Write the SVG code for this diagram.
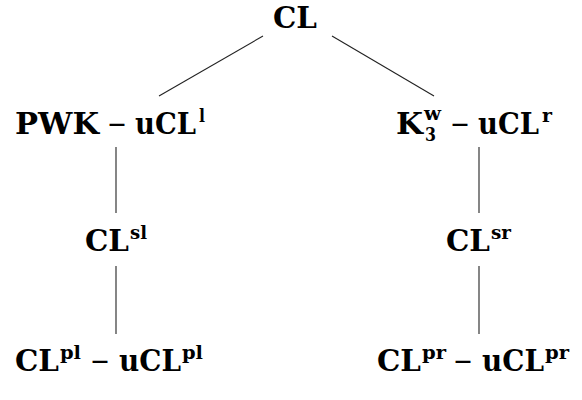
<svg xmlns="http://www.w3.org/2000/svg" width="582" height="400" viewBox="0 0 582 400">
<style>
.t{font-family:"DejaVu Serif","Liberation Serif",serif;font-weight:bold;font-size:29px;fill:#000}
.s{font-size:19px}
.m{font-weight:normal}
.e{stroke:#222;stroke-width:1.1;fill:none}
</style>
<rect width="582" height="400" fill="#fff"/>
<g id="connectors">
<line class="e" x1="263" y1="36" x2="159" y2="96"/>
<line class="e" x1="332" y1="36" x2="434" y2="96"/>
<line class="e" x1="116" y1="147" x2="116" y2="213"/>
<line class="e" x1="479" y1="147" x2="479" y2="213"/>
<line class="e" x1="116" y1="266" x2="116" y2="334"/>
<line class="e" x1="479" y1="266" x2="479" y2="334"/>
</g>
<g id="n-cl">
<text class="t" x="273" y="28" textLength="44" lengthAdjust="spacingAndGlyphs">CL</text>
</g>
<g id="n-pwk">
<text class="t" x="15" y="134" textLength="84" lengthAdjust="spacingAndGlyphs">PWK</text>
<text class="t m" x="107" y="134" textLength="20" lengthAdjust="spacingAndGlyphs">−</text>
<text class="t" x="135" y="134" textLength="61" lengthAdjust="spacingAndGlyphs">uCL</text>
<text class="t s" x="199" y="122" textLength="6" lengthAdjust="spacingAndGlyphs">l</text>
</g>
<g id="n-k3">
<text class="t" x="396" y="134" textLength="27" lengthAdjust="spacingAndGlyphs">K</text>
<text class="t s" x="424" y="120" textLength="17" lengthAdjust="spacingAndGlyphs">w</text>
<text class="t s" x="425" y="141" textLength="11" lengthAdjust="spacingAndGlyphs">3</text>
<text class="t m" x="450" y="134" textLength="20" lengthAdjust="spacingAndGlyphs">−</text>
<text class="t" x="478" y="134" textLength="61" lengthAdjust="spacingAndGlyphs">uCL</text>
<text class="t s" x="542" y="122" textLength="10" lengthAdjust="spacingAndGlyphs">r</text>
</g>
<g id="n-clsl">
<text class="t" x="85" y="251" textLength="44" lengthAdjust="spacingAndGlyphs">CL</text>
<text class="t s" x="130" y="239" textLength="17" lengthAdjust="spacingAndGlyphs">sl</text>
</g>
<g id="n-clsr">
<text class="t" x="446" y="251" textLength="44" lengthAdjust="spacingAndGlyphs">CL</text>
<text class="t s" x="491" y="239" textLength="20" lengthAdjust="spacingAndGlyphs">sr</text>
</g>
<g id="n-clpl">
<text class="t" x="15" y="371" textLength="44" lengthAdjust="spacingAndGlyphs">CL</text>
<text class="t s" x="60" y="359" textLength="21" lengthAdjust="spacingAndGlyphs">pl</text>
<text class="t m" x="90" y="371" textLength="20" lengthAdjust="spacingAndGlyphs">−</text>
<text class="t" x="119" y="371" textLength="62" lengthAdjust="spacingAndGlyphs">uCL</text>
<text class="t s" x="182" y="359" textLength="21" lengthAdjust="spacingAndGlyphs">pl</text>
</g>
<g id="n-clpr">
<text class="t" x="377" y="371" textLength="44" lengthAdjust="spacingAndGlyphs">CL</text>
<text class="t s" x="422" y="359" textLength="24" lengthAdjust="spacingAndGlyphs">pr</text>
<text class="t m" x="453" y="371" textLength="20" lengthAdjust="spacingAndGlyphs">−</text>
<text class="t" x="482" y="371" textLength="62" lengthAdjust="spacingAndGlyphs">uCL</text>
<text class="t s" x="545" y="359" textLength="24" lengthAdjust="spacingAndGlyphs">pr</text>
</g>
</svg>
